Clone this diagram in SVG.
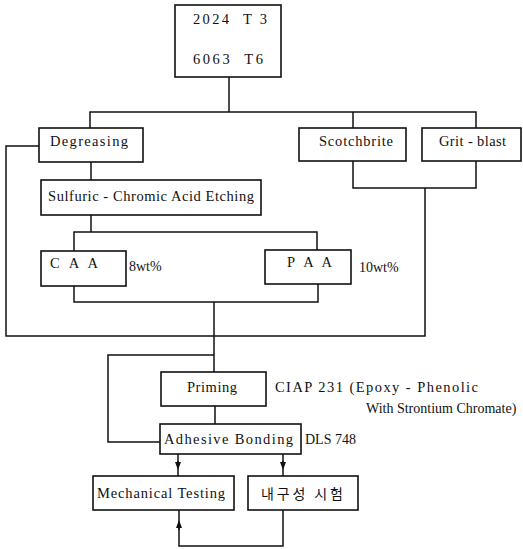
<svg xmlns="http://www.w3.org/2000/svg" width="523" height="549" viewBox="0 0 523 549">
<defs>
<style>
.box{fill:#fff;stroke:#111;stroke-width:1.6}
.t{font-family:"Liberation Serif","Times New Roman",serif;font-size:14.5px;fill:#111}
.s{font-family:"Liberation Serif","Times New Roman",serif;font-size:14px;fill:#111}
.k{font-family:"Noto Sans CJK KR",sans-serif;font-size:14px;fill:#111}
.c{fill:none;stroke:#111;stroke-width:1.5}
</style>
<marker id="arr" markerWidth="8" markerHeight="8" refX="4" refY="4" orient="auto" markerUnits="userSpaceOnUse" viewBox="0 0 8 8">
<path d="M0,1 L8,4 L0,7 Z" fill="#111"/>
</marker>
</defs>
<rect width="523" height="549" fill="#fff"/>
<g id="connectors">
<path class="c" d="M229,77 V112"/>
<path class="c" d="M90,128 V112 H476 V128"/>
<path class="c" d="M353,112 V128"/>
<path class="c" d="M91,162 V180"/>
<path class="c" d="M39,146 H6 V336 H425 V188"/>
<path class="c" d="M353,161 V188 H476 V161"/>
<path class="c" d="M91,215 V232"/>
<path class="c" d="M74,251 V232 H317 V250"/>
<path class="c" d="M74,286 V302 H318 V284"/>
<path class="c" d="M214,302 V372"/>
<path class="c" d="M214,355 H108 V442 H160"/>
<path class="c" d="M215,406 V424"/>
<path class="c" d="M178,454 V476"/>
<path class="c" d="M283,454 V476"/>
<path class="c" d="M283,510 V546 H179 V510"/>
<path class="c" d="M178,461 V466" marker-end="url(#arr)"/>
<path class="c" d="M283,461 V466" marker-end="url(#arr)"/>
<path class="c" d="M179,530 V524" marker-end="url(#arr)"/>
</g>
<g id="alloys">
<rect class="box" x="175" y="5" width="106" height="72"/>
<text class="t" x="193" y="24" textLength="74" lengthAdjust="spacing" xml:space="preserve">2024  T 3</text>
<text class="t" x="193" y="64" textLength="70" lengthAdjust="spacing" xml:space="preserve">6063  T6</text>
</g>
<g id="degreasing">
<rect class="box" x="39" y="128" width="104" height="34"/>
<text class="t" x="50" y="146" textLength="78" lengthAdjust="spacing">Degreasing</text>
</g>
<g id="scotchbrite">
<rect class="box" x="299" y="128" width="107" height="33"/>
<text class="t" x="319" y="146" textLength="74" lengthAdjust="spacing">Scotchbrite</text>
</g>
<g id="gritblast">
<rect class="box" x="422" y="128" width="99" height="33"/>
<text class="t" x="439" y="146" textLength="67" lengthAdjust="spacing">Grit - blast</text>
</g>
<g id="etching">
<rect class="box" x="41" y="180" width="220" height="35"/>
<text class="t" x="48" y="201" textLength="206" lengthAdjust="spacing">Sulfuric - Chromic Acid Etching</text>
</g>
<g id="caa">
<rect class="box" x="41" y="251" width="85" height="35"/>
<text class="t" x="50" y="268" textLength="48" lengthAdjust="spacing">C A A</text>
<text class="s" x="129" y="271">8wt%</text>
</g>
<g id="paa">
<rect class="box" x="265" y="250" width="86" height="34"/>
<text class="t" x="287" y="267" textLength="45" lengthAdjust="spacing">P A A</text>
<text class="s" x="359" y="272">10wt%</text>
</g>
<g id="priming">
<rect class="box" x="161" y="372" width="105" height="34"/>
<text class="t" x="187" y="392" textLength="50" lengthAdjust="spacing">Priming</text>
<text class="t" x="275" y="392" textLength="203" lengthAdjust="spacing">CIAP 231 (Epoxy - Phenolic</text>
<text class="s" x="366" y="413">With Strontium Chromate)</text>
</g>
<g id="bonding">
<rect class="box" x="160" y="424" width="141" height="30"/>
<text class="t" x="164" y="444" textLength="129" lengthAdjust="spacing">Adhesive Bonding</text>
<text class="s" x="305" y="444">DLS 748</text>
</g>
<g id="mechanical">
<rect class="box" x="93" y="476" width="141" height="34"/>
<text class="t" x="97" y="498" textLength="128" lengthAdjust="spacing">Mechanical Testing</text>
</g>
<g id="durability">
<rect class="box" x="248" y="476" width="110" height="34"/>
<text class="k" x="261" y="499" textLength="82" lengthAdjust="spacing">내구성 시험</text>
</g>
</svg>
